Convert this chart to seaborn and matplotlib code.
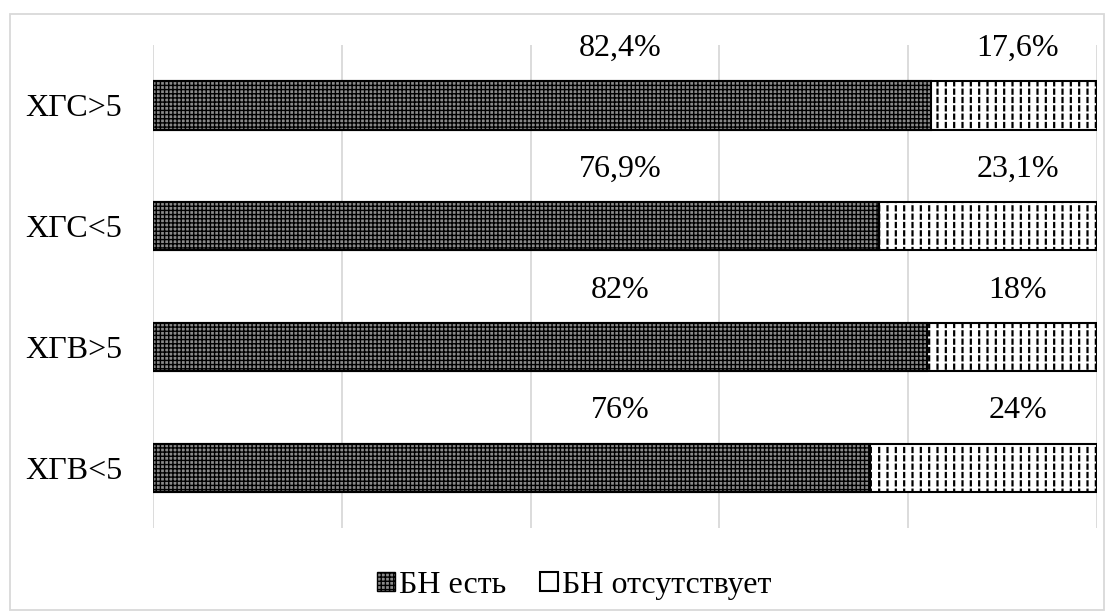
import matplotlib

matplotlib.use("Agg")
import matplotlib.pyplot as plt
import pandas as pd
import seaborn as sns
from matplotlib.patches import Patch, Rectangle

categories = ["ХГС>5", "ХГС<5", "ХГВ>5", "ХГВ<5"]
bn_present = [82.4, 76.9, 82, 76]
bn_absent = [17.6, 23.1, 18, 24]
present_labels = ["82,4%", "76,9%", "82%", "76%"]
absent_labels = ["17,6%", "23,1%", "18%", "24%"]
series_names = ["БН есть", "БН отсутствует"]

df = pd.DataFrame(
    {
        "group": categories,
        "present": bn_present,
        "total": [p + a for p, a in zip(bn_present, bn_absent)],
    }
)

sns.set_style("white")
plt.rcParams["font.family"] = ["Liberation Serif", "DejaVu Serif"]
plt.rcParams["text.color"] = "black"
plt.rcParams["ytick.color"] = "black"
plt.rcParams["hatch.linewidth"] = 1.0

DARK = "#8a8a8a"
FS = 23
BAR_W = 0.4


def set_hatch_lw(patches, lw):
    for p in patches:
        if hasattr(p, "set_hatch_linewidth"):
            p.set_hatch_linewidth(lw)


fig = plt.figure(figsize=(11.11, 6.14), dpi=100)
ax = fig.add_axes([0.1377, 0.140, 0.8497, 0.7867])

# full bar with vertical hatch, broken into dashes by a white horizontal hatch
with plt.rc_context({"hatch.linewidth": 1.6}):
    sns.barplot(data=df, y="group", x="total", orient="h", color="white",
                edgecolor="black", linewidth=0, width=BAR_W, hatch="||", ax=ax)
n_done = len(ax.patches)
with plt.rc_context({"hatch.linewidth": 1.5}):
    sns.barplot(data=df, y="group", x="total", orient="h", fill=False,
                edgecolor="white", linewidth=0, width=BAR_W, hatch="--", ax=ax)
set_hatch_lw(ax.patches[n_done:], 1.5)
n_done = len(ax.patches)
# dark segment
sns.barplot(data=df, y="group", x="present", orient="h", color=DARK,
            edgecolor="black", linewidth=1.5, width=BAR_W, hatch="++++", ax=ax)
set_hatch_lw(ax.patches[n_done:], 1.0)
# outline of the whole bar
sns.barplot(data=df, y="group", x="total", orient="h", fill=False,
            edgecolor="black", linewidth=1.5, width=BAR_W, ax=ax)

ax.set_xlim(0, 100)
ax.set_ylim(3.5, -0.5)
ax.set_xticks(range(0, 101, 20))
ax.set_xticklabels([])
ax.grid(axis="x", color="#d9d9d9", linewidth=1.3)
ax.set_axisbelow(True)
ax.tick_params(axis="both", length=0, labelsize=FS, pad=22)
ax.set_xlabel("")
ax.set_ylabel("")
for s in ax.spines.values():
    s.set_visible(False)

for i in range(len(categories)):
    ax.text(49.5, i - 0.47, present_labels[i], ha="center", va="center", fontsize=FS)
    ax.text(91.6, i - 0.47, absent_labels[i], ha="center", va="center", fontsize=FS)

handles = [
    Patch(facecolor=DARK, edgecolor="black", hatch="++++", label=series_names[0]),
    Patch(facecolor="white", edgecolor="black", linewidth=1.5, label=series_names[1]),
]
fig.legend(
    handles=handles, loc="center", bbox_to_anchor=(0.517, 0.047), ncol=2,
    frameon=False, fontsize=FS, handlelength=0.55, handleheight=0.55,
    handletextpad=0.15, columnspacing=1.05,
)

fig.patches.append(
    Rectangle((0.009, 0.006), 0.985, 0.971, transform=fig.transFigure,
              fill=False, edgecolor="#d9d9d9", linewidth=1.3)
)

fig.savefig("out.png", dpi=100)
